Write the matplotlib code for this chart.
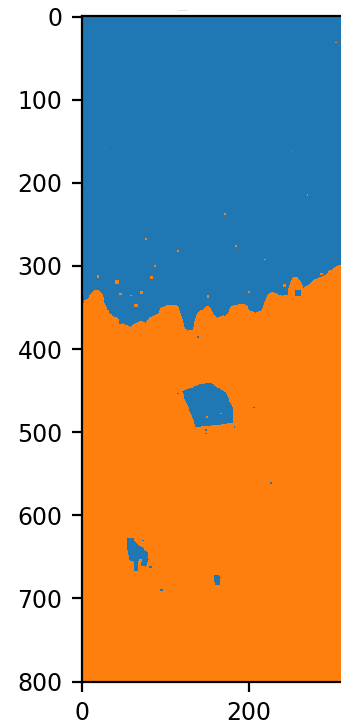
import numpy as np
import matplotlib
matplotlib.use("Agg")
import matplotlib.pyplot as plt
from matplotlib.colors import ListedColormap
from matplotlib.path import Path

# label map size (rows x cols); only the left part is visible in the crop
H, W = 801, 400

CLASS_COLORS = ["#1f77b4", "#ff7f0e", "#9467bd"]

# lower edge of the blue region, read left to right (col, row)
BOUNDARY_COLS = [0, 4, 8, 10, 14, 20, 24, 26, 30, 36, 42, 47, 52, 58, 63, 70,
                 76, 80, 86, 90, 94, 100, 106, 112, 116, 119, 122, 126, 132,
                 135, 138, 144, 150, 154, 157, 162, 168, 174, 178, 186, 194,
                 198, 202, 208, 214, 218, 222, 228, 234, 240, 246, 249, 252,
                 258, 262, 266, 272, 278, 284, 290, 296, 302, 310, 320, 400]
BOUNDARY_ROWS = [346, 340, 338, 333, 330, 329, 333, 342, 352, 360, 362, 368,
                 371, 373, 369, 366, 368, 362, 360, 358, 350, 348, 347, 346,
                 350, 360, 372, 378, 377, 366, 356, 352, 348, 350, 358, 362,
                 360, 358, 349, 346, 345, 348, 354, 356, 354, 346, 334, 331,
                 333, 336, 334, 322, 314, 313, 318, 326, 322, 316, 314, 312,
                 306, 302, 299, 297, 294]

# blue patch in the middle of the orange region
BLOB_A_COLS = [120, 142, 154, 160, 172, 180, 180, 166, 142, 136, 130, 122]
BLOB_A_ROWS = [451, 442, 440, 445, 452, 470, 489, 491, 493, 493, 477, 458]

# smaller blue patch lower left
BLOB_B_COLS = [53, 61, 64, 72, 78, 79, 76, 71, 70, 66, 67, 63, 62, 56, 54]
BLOB_B_ROWS = [627, 628, 633, 639, 645, 653, 662, 660, 654, 654, 667, 667, 657, 653, 641]

# tiny blue patch near the bottom
BLOB_C_COLS = [158, 163, 166, 165, 160, 158]
BLOB_C_ROWS = [672, 671, 675, 683, 683, 678]

# isolated specks: column, row, size
BLUE_SPECK_COLS = [114, 206, 148, 148, 182, 226, 81, 94, 138, 256, 72, 44, 170]
BLUE_SPECK_ROWS = [453, 470, 497, 501, 493, 561, 661, 689, 385, 330, 630, 366, 358]
BLUE_SPECK_SIZES = [2, 2, 2, 2, 2, 2, 3, 3, 2, 7, 2, 4, 3]

ORANGE_SPECK_COLS = [87, 82, 40, 45, 58, 70, 63, 241, 200, 219, 286, 76, 114,
                     171, 184, 270, 304, 149, 166, 68, 18, 150]
ORANGE_SPECK_ROWS = [300, 313, 318, 333, 335, 331, 346, 322, 331, 292, 309, 267,
                     281, 237, 276, 214, 31, 481, 477, 653, 312, 336]
ORANGE_SPECK_SIZES = [2, 3, 4, 3, 2, 3, 4, 4, 2, 2, 3, 2, 3, 2, 2, 2, 2, 2, 2,
                      4, 3, 3]

PURPLE_SPECK_COLS = [28, 251]
PURPLE_SPECK_ROWS = [158, 162]


def fill_polygon(labels, cols, rows, value, pts):
    inside = Path(np.column_stack([cols, rows])).contains_points(pts)
    labels[inside.reshape(labels.shape)] = value


def fill_specks(labels, cols, rows, sizes, value):
    for c, r, s in zip(cols, rows, sizes):
        labels[r:r + s, c:c + s] = value


rr, cc = np.mgrid[0:H, 0:W]
pts = np.column_stack([cc.ravel(), rr.ravel()])

labels = np.ones((H, W), dtype=int)

top_cols = [-1, W] + BOUNDARY_COLS[::-1] + [-1]
top_rows = [-1, -1] + BOUNDARY_ROWS[::-1] + [BOUNDARY_ROWS[0]]
fill_polygon(labels, top_cols, top_rows, 0, pts)
fill_polygon(labels, BLOB_A_COLS, BLOB_A_ROWS, 0, pts)
fill_polygon(labels, BLOB_B_COLS, BLOB_B_ROWS, 0, pts)
fill_polygon(labels, BLOB_C_COLS, BLOB_C_ROWS, 0, pts)

fill_specks(labels, BLUE_SPECK_COLS, BLUE_SPECK_ROWS, BLUE_SPECK_SIZES, 0)
fill_specks(labels, ORANGE_SPECK_COLS, ORANGE_SPECK_ROWS, ORANGE_SPECK_SIZES, 1)
fill_specks(labels, PURPLE_SPECK_COLS, PURPLE_SPECK_ROWS, [1, 1], 2)

plt.rcParams["font.size"] = 8.5

fig = plt.figure(figsize=(1.705, 3.62), dpi=200)
px_per_unit = 665 / 800
ax = fig.add_axes([82 / 341, (724 - 682) / 724,
                   W * px_per_unit / 341, H * px_per_unit / 724])
ax.imshow(labels, cmap=ListedColormap(CLASS_COLORS), vmin=0, vmax=2,
          interpolation="nearest", aspect="auto")
ax.set_xticks([0, 200])
ax.set_yticks(np.arange(0, 801, 100))

fig.text(182 / 341, 1 - 10 / 724, "\u2014", color="#dddddd", fontsize=4,
         ha="center", va="center")

fig.savefig("out.png", dpi=200)
